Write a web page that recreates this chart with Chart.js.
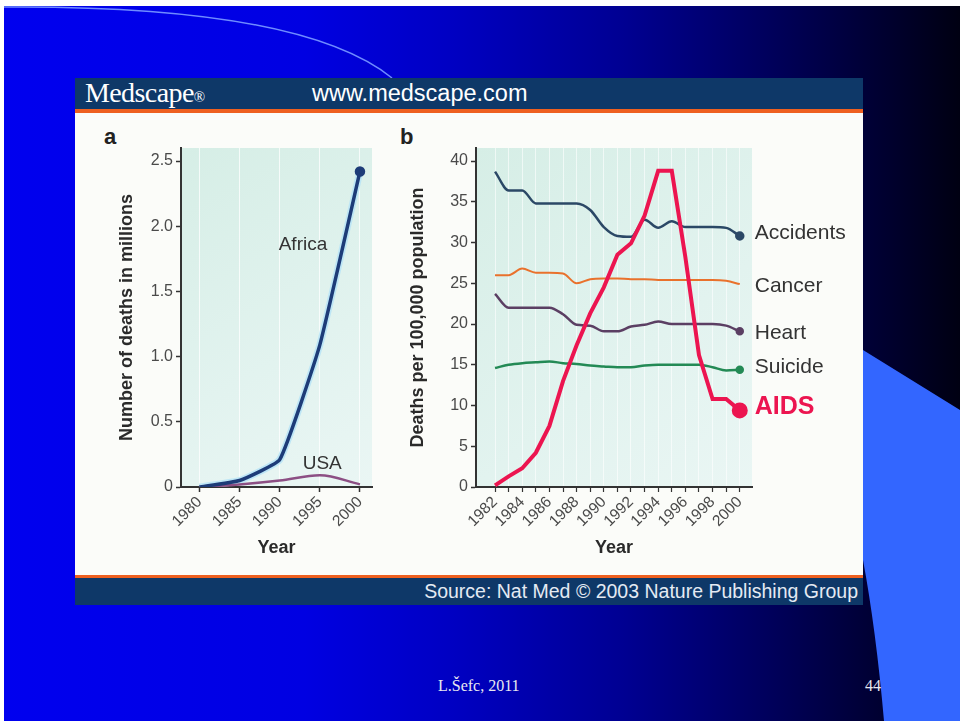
<!DOCTYPE html>
<html>
<head>
<meta charset="utf-8">
<script src="https://cdn.jsdelivr.net/npm/chart.js@4.4.1/dist/chart.umd.min.js"></script>
<style>
  html, body { margin: 0; padding: 0; }
  body { width: 960px; height: 721px; position: relative; overflow: hidden; background: #fff; font-family: 'Liberation Sans', Arial, sans-serif; }
  #slide { position: absolute; left: 4px; top: 6px; width: 956px; height: 715px;
    background: linear-gradient(to right, #0000ef 0px, #0000e2 300px, #0000c2 450px, #000092 620px, #000056 780px, #000028 900px, #000012 956px); }
  #deco { position: absolute; left: 0; top: 0; }
  #panel { position: absolute; left: 75px; top: 78px; width: 788px; height: 527px; background: #fbfcf9; }
  #head { position: absolute; left: 0; top: 0; width: 788px; height: 31px; background: #0e3868; border-bottom: 4px solid #ee6020; }
  #foot { position: absolute; left: 0; top: 497px; width: 788px; height: 27px; background: #0e3868; border-top: 3px solid #ee6020; }
  .logo { position: absolute; left: 10px; top: -1px; color: #fff; font: 28px 'Liberation Serif', 'Times New Roman', serif; letter-spacing: -0.6px; }
  .logo small { font-size: 15px; letter-spacing: 0; }
  .url { position: absolute; left: 237px; top: 2px; color: #fff; font-size: 23.5px; }
  .src { position: absolute; right: 5px; top: 2px; color: #e4eaf3; font-size: 19.5px; }
  .plab { position: absolute; color: #222; font-weight: bold; font-size: 22px; }
  canvas { position: absolute; }
  .fnote { position: absolute; color: #e8e8f0; font: 16px 'Liberation Serif', 'Times New Roman', serif; }
</style>
</head>
<body>
<div id="slide"></div>
<svg id="deco" width="960" height="721">
  <path d="M 960 410 L 863 350 L 863 560 Q 876 630 884 721 L 960 721 Z" fill="#3366ff"/>
  <path d="M 4 7 Q 301 5 392 78" fill="none" stroke="#6f8cff" stroke-width="1.5"/>
</svg>
<div class="fnote" style="left:438px; top:677px;">L.Šefc, 2011</div>
<div class="fnote" style="left:865px; top:677px;">44</div>

<div id="panel">
  <div id="head">
    <div class="logo">Medscape<small>®</small></div>
    <div class="url">www.medscape.com</div>
  </div>
  <div class="plab" style="left:29px; top:46px;">a</div>
  <div class="plab" style="left:325px; top:46px;">b</div>
  <div id="foot"><div class="src">Source: Nat Med © 2003 Nature Publishing Group</div></div>
</div>

<canvas id="chartA" width="280" height="445" style="left:105px; top:120px;"></canvas>
<canvas id="chartB" width="460" height="445" style="left:400px; top:120px;"></canvas>

<script>
// panel a: AIDS deaths, millions
const yearsA = [1980, 1985, 1990, 1995, 2000];
const africa = [0, 0.05, 0.21, 1.09, 2.42];
const usa = [0, 0.02, 0.05, 0.09, 0.02];
const yTicksA = [0, 0.5, 1.0, 1.5, 2.0, 2.5];
const yTickLabelsA = ['0', '0.5', '1.0', '1.5', '2.0', '2.5'];

// panel b: deaths per 100,000
const yearsB = [1982, 1983, 1984, 1985, 1986, 1987, 1988, 1989, 1990, 1991,
                1992, 1993, 1994, 1995, 1996, 1997, 1998, 1999, 2000];
const accidents = [38.7, 36.4, 36.4, 34.8, 34.8, 34.8, 34.8, 34.0, 31.9, 30.8, 30.7, 32.8, 31.8, 32.6, 31.9, 31.9, 31.9, 31.8, 30.8];
const cancer    = [26.0, 26.0, 26.8, 26.3, 26.3, 26.2, 25.0, 25.5, 25.6, 25.6, 25.5, 25.5, 25.4, 25.4, 25.4, 25.4, 25.4, 25.3, 24.9];
const heart     = [23.7, 22.0, 22.0, 22.0, 22.0, 21.2, 19.9, 19.8, 19.1, 19.1, 19.7, 19.9, 20.3, 20.0, 20.0, 20.0, 20.0, 19.8, 19.1];
const suicide   = [14.6, 15.0, 15.2, 15.3, 15.4, 15.2, 15.1, 14.9, 14.8, 14.7, 14.7, 14.9, 15.0, 15.0, 15.0, 15.0, 14.7, 14.3, 14.4];
const aids      = [0.2, 1.3, 2.3, 4.2, 7.5, 13.0, 17.4, 21.3, 24.5, 28.5, 29.9, 33.3, 38.8, 38.8, 28.2, 16.2, 10.8, 10.8, 9.4];
const yTicksB = [0, 5, 10, 15, 20, 25, 30, 35, 40];
const xLabelYearsB = [1982, 1984, 1986, 1988, 1990, 1992, 1994, 1996, 1998, 2000];

Chart.defaults.font.family = "'Liberation Sans', Arial, sans-serif";
Chart.defaults.color = '#4a4a4a';

const pts = (xs, ys) => xs.map((x, i) => ({ x, y: ys[i] }));
const endDot = r => ctx => ctx.dataIndex === ctx.dataset.data.length - 1 ? r : 0;

const plotBackground = {
  id: 'plotBackground',
  beforeDraw(chart) {
    const { ctx, chartArea: a } = chart;
    const g = ctx.createLinearGradient(a.left, a.top, a.right, a.bottom);
    g.addColorStop(0, '#d6eee6');
    g.addColorStop(0.6, '#e2f3ef');
    g.addColorStop(1, '#eaf6f4');
    ctx.save();
    ctx.fillStyle = g;
    ctx.fillRect(a.left, a.top, a.right - a.left, a.bottom - a.top);
    ctx.restore();
  }
};

// text next to the last point of a series
const endLabels = {
  id: 'endLabels',
  afterDatasetsDraw(chart) {
    const { ctx, scales: { x, y } } = chart;
    chart.data.datasets.forEach(ds => {
      if (!ds.endLabel) return;
      const last = ds.data[ds.data.length - 1];
      ctx.save();
      ctx.font = ds.endLabelFont;
      ctx.fillStyle = ds.endLabelColor;
      ctx.textBaseline = 'middle';
      ctx.fillText(ds.endLabel, x.getPixelForValue(last.x) + 15, y.getPixelForValue(last.y) + (ds.endLabelDy || 0));
      ctx.restore();
    });
  }
};

// free text placed in data space
const notes = {
  id: 'notes',
  afterDatasetsDraw(chart, args, opts) {
    const { ctx, scales: { x, y } } = chart;
    (opts.items || []).forEach(n => {
      ctx.save();
      ctx.font = "19px 'Liberation Sans', Arial, sans-serif";
      ctx.fillStyle = '#333';
      ctx.textAlign = 'center';
      ctx.textBaseline = 'middle';
      ctx.fillText(n.text, x.getPixelForValue(n.x), y.getPixelForValue(n.y));
      ctx.restore();
    });
  }
};

const axisTitle = (text, pad) => ({
  display: true, text, color: '#2a2a2a',
  font: { size: 18, weight: 'bold' }, padding: pad
});

new Chart(document.getElementById('chartA'), {
  type: 'line',
  data: {
    datasets: [
      { data: pts(yearsA, africa), borderColor: '#1d3c78', backgroundColor: '#1d3c78', borderWidth: 3.5,
        pointRadius: endDot(3.5), tension: 0.12, order: 1 },
      { data: pts(yearsA, africa), borderColor: 'rgba(185,228,246,0.9)', borderWidth: 7,
        pointRadius: 0, tension: 0.12, order: 3 },
      { data: pts(yearsA, usa), borderColor: '#8c4f84', borderWidth: 2.5,
        pointRadius: 0, cubicInterpolationMode: 'monotone', order: 2 }
    ]
  },
  options: {
    responsive: false,
    animation: false,
    layout: { padding: { top: 28, right: 13, left: 0, bottom: 0 } },
    plugins: {
      legend: { display: false },
      tooltip: { enabled: false },
      notes: { items: [ { text: 'Africa', x: 1992.9, y: 1.86 }, { text: 'USA', x: 1995.3, y: 0.18 } ] }
    },
    scales: {
      x: {
        type: 'linear', min: 1977.7, max: 2001.5,
        afterBuildTicks: s => { s.ticks = yearsA.map(v => ({ value: v })); },
        afterFit: s => { s.height = 78; },
        ticks: { callback: v => String(v), minRotation: 45, maxRotation: 45, autoSkip: false, padding: 1, font: { size: 15.5 } },
        grid: { color: 'rgba(255,255,255,0.75)', tickColor: '#333', tickLength: 5, tickWidth: 1.5 },
        border: { color: '#333', width: 2 },
        title: axisTitle('Year', { top: 0, bottom: 6 })
      },
      y: {
        min: 0, max: 2.6,
        afterBuildTicks: s => { s.ticks = yTicksA.map(v => ({ value: v })); },
        afterFit: s => { s.width = 76; },
        ticks: { callback: (v, i) => yTickLabelsA[i], padding: 3, font: { size: 16 } },
        grid: { drawOnChartArea: false, tickColor: '#333', tickLength: 5, tickWidth: 1.5 },
        border: { color: '#333', width: 2 },
        title: axisTitle('Number of deaths in millions', { top: 11, bottom: 0 })
      }
    }
  },
  plugins: [plotBackground, notes]
});

const labelFont = "21px 'Liberation Sans', Arial, sans-serif";

new Chart(document.getElementById('chartB'), {
  type: 'line',
  data: {
    datasets: [
      { data: pts(yearsB, accidents), borderColor: '#2b4866', backgroundColor: '#2b4866', borderWidth: 2.5,
        pointRadius: endDot(3.5), cubicInterpolationMode: 'monotone', order: 2,
        endLabel: 'Accidents', endLabelFont: labelFont, endLabelColor: '#333', endLabelDy: -3 },
      { data: pts(yearsB, cancer), borderColor: '#e9712c', backgroundColor: '#e9712c', borderWidth: 2,
        pointRadius: 0, cubicInterpolationMode: 'monotone', order: 2,
        endLabel: 'Cancer', endLabelFont: labelFont, endLabelColor: '#333', endLabelDy: 2 },
      { data: pts(yearsB, heart), borderColor: '#5b3f63', backgroundColor: '#5b3f63', borderWidth: 2.5,
        pointRadius: endDot(3), cubicInterpolationMode: 'monotone', order: 2,
        endLabel: 'Heart', endLabelFont: labelFont, endLabelColor: '#333', endLabelDy: 2 },
      { data: pts(yearsB, suicide), borderColor: '#238a55', backgroundColor: '#238a55', borderWidth: 2.5,
        pointRadius: endDot(3), cubicInterpolationMode: 'monotone', order: 2,
        endLabel: 'Suicide', endLabelFont: labelFont, endLabelColor: '#333', endLabelDy: -2 },
      { data: pts(yearsB, aids), borderColor: '#ec1550', backgroundColor: '#ec1550', borderWidth: 4,
        pointRadius: endDot(6), tension: 0, order: 1,
        endLabel: 'AIDS', endLabelFont: "bold 25px 'Liberation Sans', Arial, sans-serif", endLabelColor: '#ec1550', endLabelDy: -3 }
    ]
  },
  options: {
    responsive: false,
    animation: false,
    layout: { padding: { top: 28, right: 108, left: 0, bottom: 0 } },
    plugins: { legend: { display: false }, tooltip: { enabled: false } },
    scales: {
      x: {
        type: 'linear', min: 1980.6, max: 2000.9,
        afterBuildTicks: s => { s.ticks = yearsB.map(v => ({ value: v })); },
        afterFit: s => { s.height = 78; },
        ticks: { callback: v => xLabelYearsB.includes(v) ? String(v) : '', minRotation: 45, maxRotation: 45,
                 autoSkip: false, padding: 1, font: { size: 15.5 } },
        grid: { color: 'rgba(255,255,255,0.6)', tickColor: '#333', tickLength: 5, tickWidth: 1.2 },
        border: { color: '#333', width: 2 },
        title: axisTitle('Year', { top: 0, bottom: 6 })
      },
      y: {
        min: 0, max: 41.6,
        afterBuildTicks: s => { s.ticks = yTicksB.map(v => ({ value: v })); },
        afterFit: s => { s.width = 76; },
        ticks: { callback: v => String(v), padding: 3, font: { size: 16 } },
        grid: { drawOnChartArea: false, tickColor: '#333', tickLength: 5, tickWidth: 1.5 },
        border: { color: '#333', width: 2 },
        title: axisTitle('Deaths per 100,000 population', { top: 7, bottom: 0 })
      }
    }
  },
  plugins: [plotBackground, endLabels]
});
</script>
</body>
</html>
